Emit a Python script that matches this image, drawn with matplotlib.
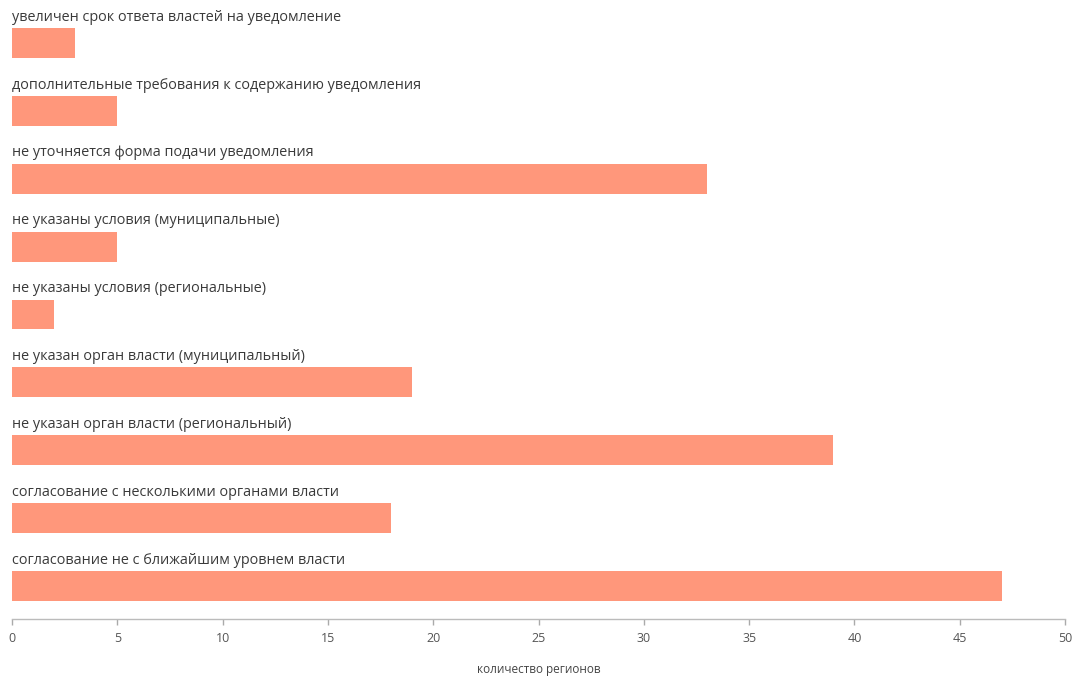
import matplotlib
matplotlib.use("Agg")
import matplotlib.pyplot as plt

categories = [
    "увеличен срок ответа властей на уведомление",
    "дополнительные требования к содержанию уведомления",
    "не уточняется форма подачи уведомления",
    "не указаны условия (муниципальные)",
    "не указаны условия (региональные)",
    "не указан орган власти (муниципальный)",
    "не указан орган власти (региональный)",
    "согласование с несколькими органами власти",
    "согласование не с ближайшим уровнем власти",
]
values = [3, 5, 33, 5, 2, 19, 39, 18, 47]
xticks = [0, 5, 10, 15, 20, 25, 30, 35, 40, 45, 50]
xlabel = "количество регионов"

plt.rcParams['font.family'] = ['Open Sans', 'DejaVu Sans']

fig = plt.figure(figsize=(10.76, 6.79), dpi=100)
ax = fig.add_axes([12/1076, 60/679, (1065-12)/1076, 619/679])

n = len(categories)
ypos = [n - 1 - i for i in range(n)]
ax.barh(ypos, values, height=0.44, color="#FF977B", edgecolor="none")
for y, lab in zip(ypos, categories):
    ax.text(0, y + 0.38, lab, ha="left", va="center", fontsize=10.4, color="#3a3a3a")

ax.set_xlim(0, 50)
ax.set_ylim(-0.486, 8.633)
ax.set_xticks(xticks)
ax.set_xticklabels([str(t) for t in xticks], fontsize=9, color="#555555")
ax.tick_params(axis="x", length=4, width=1, color="#aaaaaa", pad=5)
ax.set_yticks([])
for s in ["top", "right", "left"]:
    ax.spines[s].set_visible(False)
ax.spines["bottom"].set_color("#bbbbbb")
ax.spines["bottom"].set_linewidth(1)
ax.set_xlabel(xlabel, fontsize=8.5, color="#444444")
ax.xaxis.set_label_coords(0.5, (619 - 670) / 619)
ax.xaxis.label.set_va("center")

fig.savefig("out.png", dpi=100)
